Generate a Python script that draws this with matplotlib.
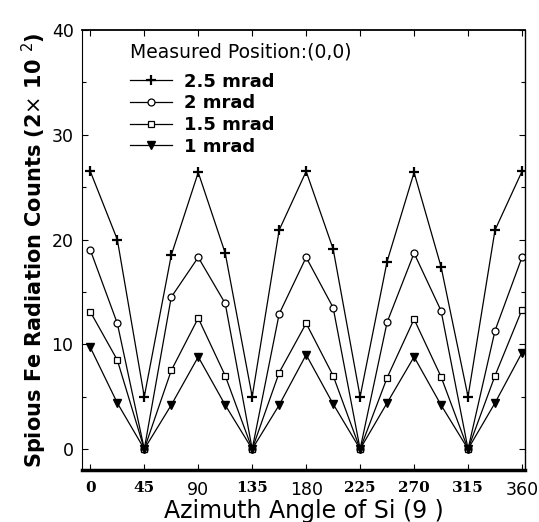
import numpy as np
import matplotlib.pyplot as plt
from matplotlib.ticker import MultipleLocator

ANGLES = [0, 22.5, 45, 67.5, 90, 112.5, 135, 157.5, 180, 202.5, 225,
          247.5, 270, 292.5, 315, 337.5, 360]

MRAD_25 = [26.5, 20.0, 5.0, 18.5, 26.4, 18.7, 5.0, 20.9, 26.5, 19.1, 5.0,
           17.9, 26.4, 17.4, 5.0, 20.9, 26.5]
MRAD_2 = [19.0, 12.0, 0, 14.5, 18.3, 13.9, 0, 12.9, 18.3, 13.5, 0,
          12.1, 18.7, 13.2, 0, 11.3, 18.3]
MRAD_15 = [13.1, 8.5, 0, 7.5, 12.5, 7.0, 0, 7.3, 12.0, 7.0, 0,
           6.8, 12.4, 6.9, 0, 7.0, 13.3]
MRAD_1 = [9.7, 4.4, 0, 4.2, 8.8, 4.2, 0, 4.2, 9.0, 4.3, 0,
          4.4, 8.8, 4.2, 0, 4.4, 9.2]

LABELS = ['2.5 mrad', '2 mrad', '1.5 mrad', '1 mrad']
XTICKS = [0, 45, 90, 135, 180, 225, 270, 315, 360]
YTICKS = [0, 10, 20, 30, 40]


def main():
    fig = plt.figure(figsize=(5.39, 5.22), dpi=100)
    ax = fig.add_axes([0.152, 0.0996, 0.822, 0.843])

    styles = [
        dict(marker='+', markersize=7, markeredgewidth=1.6, color='black'),
        dict(marker='o', markersize=5, markerfacecolor='white', markeredgewidth=0.9, color='black'),
        dict(marker='s', markersize=4.5, markerfacecolor='white', markeredgewidth=0.9, color='black'),
        dict(marker='v', markersize=5.5, color='black'),
    ]
    for ys, lab, st in zip([MRAD_25, MRAD_2, MRAD_15, MRAD_1], LABELS, styles):
        ax.plot(ANGLES, ys, linewidth=0.9, label=lab, **st)

    ax.set_xlim(-7, 362.5)
    ax.set_ylim(-2, 40)
    ax.set_xticks(XTICKS)
    ax.set_yticks(YTICKS)
    ax.yaxis.set_minor_locator(MultipleLocator(5))
    ax.tick_params(direction='in', top=True, right=True, length=4, width=0.8)
    ax.tick_params(which='minor', direction='in', right=True, length=3, width=0.8)
    ax.tick_params(axis='y', labelsize=12.5, pad=6)

    ax.set_xticklabels([str(t) for t in XTICKS])
    serif_ticks = [0, 45, 135, 225, 270, 315]
    for t, lbl in zip(XTICKS, ax.get_xticklabels()):
        if t in serif_ticks:
            lbl.set_fontfamily('DejaVu Serif')
            lbl.set_fontweight('bold')
            lbl.set_fontsize(11)
        else:
            lbl.set_fontsize(12.5)
    ax.tick_params(axis='x', pad=8)

    ax.spines['bottom'].set_linewidth(2.5)
    ax.spines['top'].set_linewidth(1.3)
    ax.spines['left'].set_linewidth(0.8)
    ax.spines['right'].set_linewidth(1.0)

    ax.set_xlabel('Azimuth Angle of Si (9 )', fontsize=17, labelpad=0)
    ax.set_ylabel('Spious Fe Radiation Counts (2$\\times$ 10 $^{2}$)',
                  fontsize=15, fontweight='bold', labelpad=2)

    leg = ax.legend(loc='upper left', bbox_to_anchor=(0.08, 1.0), frameon=False,
                    title='Measured Position:(0,0)', title_fontsize=13.5,
                    prop={'weight': 'bold', 'size': 13}, handlelength=2.3,
                    handletextpad=0.7, labelspacing=0.2, borderpad=0.2)
    leg._legend_box.align = 'left'
    leg._legend_box.sep = 8

    fig.savefig('out.png', dpi=100)
    return 0


if __name__ == '__main__':
    main()
